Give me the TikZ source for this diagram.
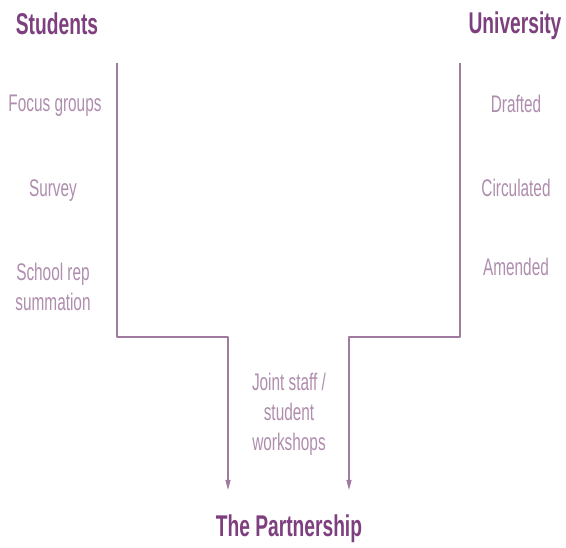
\documentclass[tikz,border=0pt]{standalone}
\usepackage{fontspec}
\setmainfont{Liberation Sans}[FakeStretch=0.64]
\usetikzlibrary{arrows.meta}
\definecolor{plum}{HTML}{7E3F7E}
\definecolor{lilac}{HTML}{AE8DAD}
\definecolor{mauve}{HTML}{A07BA0}
\begin{document}
\begin{tikzpicture}[x=1pt,y=-1pt,>={Triangle[length=10pt,width=5pt]}, line join=round,
		head/.style={font=\fontsize{30}{30}\selectfont\bfseries, text=plum, inner sep=0pt, anchor=base},
		lbl/.style={font=\fontsize{24}{30}\selectfont, text=lilac, inner sep=0pt, align=center},
		bracket/.style={draw=mauve, line width=1.1pt}]
	\useasboundingbox (0,0) rectangle (566,548);
	\node[head] (stu) at (57,35) {Students};
	\node[head] (uni) at (515,34) {University};
	\node[head] (part) at (289,537) {The Partnership};
	\node[lbl, anchor=base] (focus) at (55,112) {Focus groups};
	\node[lbl, anchor=base] (survey) at (53,197) {Survey};
	\node[lbl] (rep) at (53,287) {School rep\\summation};
	\node[lbl, anchor=base] (draft) at (516,113) {Drafted};
	\node[lbl, anchor=base] (circ) at (516,197) {Circulated};
	\node[lbl, anchor=base] (amend) at (516,276) {Amended};
	\node[lbl] (joint) at (289,414) {Joint staff /\\student\\workshops};
	% brackets
	\coordinate (ltop) at (117,63); \coordinate (lbend) at (228,337); \coordinate (lend) at (228,490);
	\coordinate (rtop) at (460,63); \coordinate (rbend) at (349,337); \coordinate (rend) at (349,490);
	\draw[bracket,->] (ltop) |- (lbend) -- (lend);
	\draw[bracket,->] (rtop) |- (rbend) -- (rend);
\end{tikzpicture}
\end{document}
